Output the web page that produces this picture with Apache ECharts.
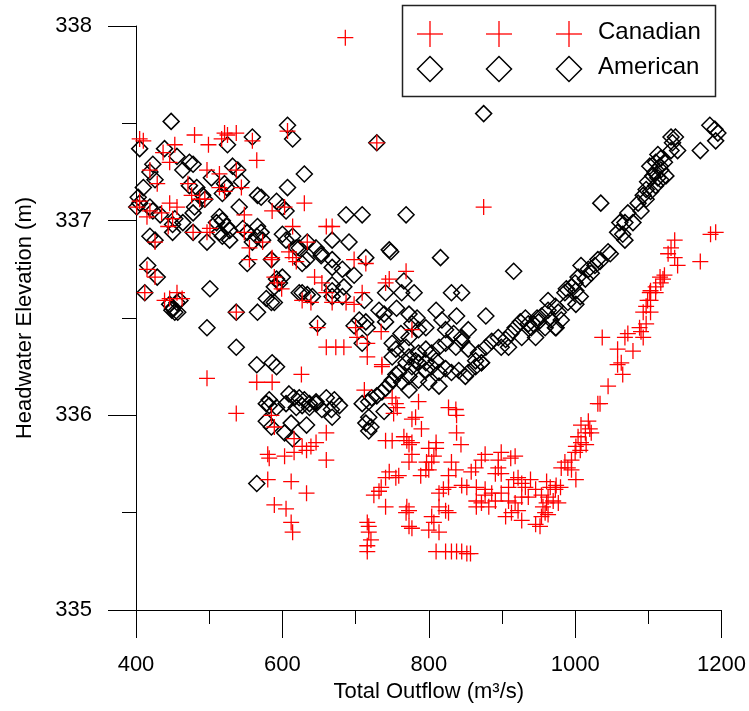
<!DOCTYPE html>
<html>
<head>
<meta charset="utf-8">
<script src="https://cdn.jsdelivr.net/npm/echarts@6/dist/echarts.min.js"></script>
<style>html,body{margin:0;padding:0;background:#fff}#c{width:749px;height:711px}</style>
</head>
<body>
<div id="c"></div>
<script>
// ---- data ----
var xTicks = [400, 600, 800, 1000, 1200];
var yTicks = [335, 336, 337, 338];
var seriesNames = ['Canadian', 'American'];

var americanFlow = [
448,405,607,614,559,525,439,456,473,478,464,423,419,426,630,532,539,607,544,503,521,524,518,483,473,410,403,405,401,566,571,592,600,605,491,494,480,478,433,423,419,453,450,464,514,518,510,524,528,514,518,528,546,552,566,571,565,573,559,541,419,426,450,478,497,600,605,614,623,619,634,646,653,
416,429,412,446,450,456,460,453,457,449,501,497,537,566,537,565,586,592,552,585,592,596,600,589,627,633,653,623,627,634,641,648,578,585,589,609,616,623,630,637,582,578,646,660,
582,592,605,619,627,637,646,654,578,585,612,633,603,614,565,
687,709,769,668,691,714,746,748,816,916,668,668,682,698,668,684,668,712,741,763,780,766,831,845,668,682,732,739,756,741,705,714,698,716,773,784,796,810,818,838,878,777,786,823,834,845,854,709,762,773,
750,755,750,769,773,786,796,804,814,823,837,845,854,868,878,886,895,899,864,872,810,796,782,
905,912,918,925,932,936,909,927,943,948,
671,678,667,668,709,718,722,729,736,741,746,750,755,759,718,714,718,721,739,769,777,786,796,804,814,823,831,841,850,854,864,872,773,786,800,814,773,763,
1184,1191,1195,1192,1171,1131,1137,1133,1140,1131,1113,1117,1110,1122,1116,1102,1109,1117,1124,1113,1106,1117,1099,1110,1097,1103,1093,1097,1086,1090,1072,1061,1068,1079,1058,1065,1068,1045,1031,1035,
1048,1034,1027,1008,1018,1022,1004,1014,1000,995,988,986,1001,1007,1001,990,963,973,963,977,954,967,981,950,959,973,940,946,974,
875,729
];
var americanElev = [
337.51,337.37,337.49,337.42,337.43,337.39,337.37,337.33,337.30,337.29,337.26,337.29,337.25,337.21,337.24,337.28,337.26,337.17,337.20,337.22,337.19,337.17,337.14,337.17,337.18,337.17,337.12,337.09,337.07,337.13,337.12,337.10,337.07,337.05,337.13,337.11,337.07,337.04,337.03,337.05,337.07,337.01,336.98,336.99,337.02,337.00,336.99,336.97,336.95,336.94,336.92,336.90,336.96,336.94,336.97,336.94,336.92,336.90,336.89,337.07,336.92,336.90,336.94,336.94,336.89,336.93,336.90,336.92,336.86,336.86,336.89,336.86,336.83,
336.77,336.71,336.63,336.57,336.55,336.58,336.59,336.53,336.53,336.54,336.65,336.45,336.35,336.53,336.53,336.26,336.27,336.25,336.78,336.80,336.70,336.68,336.71,336.66,336.78,336.80,336.82,336.63,336.63,336.62,336.61,336.47,336.60,336.58,336.58,336.11,336.09,336.09,336.08,336.06,336.08,336.06,336.07,336.09,
336.05,336.04,336.06,336.04,336.05,336.04,336.06,336.03,335.97,335.94,335.96,335.95,335.91,335.88,335.65,
337.03,337.03,337.03,336.90,336.89,336.81,336.85,336.84,336.81,336.74,336.80,336.76,336.75,336.72,336.67,336.66,336.64,336.59,336.63,336.63,336.63,336.69,336.63,336.63,336.61,336.61,336.54,336.52,336.55,336.48,336.49,336.48,336.46,336.45,336.52,336.50,336.45,336.54,336.49,336.51,336.51,336.47,336.44,336.44,336.42,336.40,336.44,336.37,336.42,336.40,
336.37,336.34,336.30,336.35,336.30,336.32,336.34,336.32,336.35,336.37,336.35,336.38,336.34,336.32,336.35,336.38,336.40,336.35,336.28,336.27,336.28,336.27,336.28,
336.39,336.42,336.45,336.48,336.50,336.47,336.35,336.40,336.47,336.50,
336.08,336.05,336.03,335.99,336.06,336.07,336.09,336.10,336.12,336.14,336.16,336.18,336.21,336.22,335.99,335.96,335.92,335.94,336.02,336.27,336.25,336.27,336.23,336.25,336.22,336.24,336.22,336.23,336.20,336.22,336.25,336.27,336.20,336.18,336.17,336.15,336.13,336.17,
337.49,337.47,337.45,337.41,337.36,337.43,337.43,337.40,337.36,337.36,337.34,337.32,337.30,337.30,337.28,337.28,337.25,337.26,337.23,337.22,337.23,337.21,337.20,337.18,337.16,337.15,337.13,337.11,337.09,337.05,337.04,336.99,336.99,336.99,336.94,336.93,336.90,336.84,336.80,337.09,
336.83,336.79,336.77,336.77,336.75,336.73,336.71,336.70,336.68,336.66,336.65,336.63,336.64,336.61,336.57,336.58,336.59,336.56,336.54,336.53,336.51,336.49,336.49,336.48,336.45,336.45,336.45,336.40,336.45,
337.55,337.40
];

var canadianFlow = [
405,410,480,453,499,521,525,517,537,565,607,559,437,446,419,429,497,514,537,471,476,544,401,405,446,456,419,415,435,450,444,494,487,478,497,501,548,548,555,573,586,603,630,614,660,426,586,609,634,514,521,
415,412,426,446,456,463,439,537,555,585,593,599,589,614,619,644,654,627,639,660,648,497,565,586,626,660,
537,585,589,580,582,603,616,627,633,639,646,660,616,580,612,633,589,605,612,614,660,
686,729,875,
668,698,714,769,746,741,709,668,687,698,735,700,673,684,716,736,777,702,716,
736,712,750,755,757,752,786,827,837,838,777,782,790,750,766,770,773,777,838,844,810,807,804,777,773,797,800,831,837,827,877,872,864,858,895,891,899,912,918,746,741,755,759,735,732,725,741,789,796,827,820,814,845,852,814,823,827,804,807,769,773,777,800,814,716,718,718,721,716,716,810,823,831,838,845,852,857,770,773,865,872,882,891,886,877,865,899,909,916,922,927,932,909,918,927,922,913,905,927,810,800,741,877,865,895,899,
1034,1008,1018,1020,1014,1004,1008,1001,1007,1015,1022,1000,995,986,981,990,995,1001,939,946,961,966,974,973,980,954,963,970,977,961,956,959,963,954,936,946,952,
1127,1136,1140,1171,1116,1120,1117,1110,1122,1103,1110,1102,1099,1103,1097,1093,1103,1097,1088,1090,1093,1072,1068,1037,1058,1079,1063,1058,1065,1045,1031,
1136,1131,1185,1192
];
var canadianElev = [
337.42,337.41,337.44,337.39,337.39,337.45,337.44,337.42,337.45,337.31,337.46,337.41,337.35,337.30,337.26,337.19,337.26,337.24,337.26,337.19,337.13,337.17,337.07,337.10,337.09,337.07,337.05,337.02,337.04,337.01,336.97,337.11,337.11,336.94,336.94,336.96,337.03,336.94,336.86,336.89,337.05,337.07,337.09,336.97,336.97,336.89,336.81,336.84,336.89,337.17,337.15,
336.75,336.63,336.71,336.60,336.63,336.60,336.59,336.53,336.80,336.80,336.68,336.65,336.71,336.81,336.79,336.71,336.68,336.59,336.58,336.63,336.45,336.19,336.17,336.17,336.21,336.35,
336.01,336.00,335.94,335.80,335.78,335.79,335.81,335.84,335.82,335.84,335.86,335.77,335.88,335.67,335.66,335.60,335.54,335.52,335.45,335.40,335.91,
337.94,337.40,337.07,
336.97,336.80,336.78,336.74,336.70,336.68,336.63,336.58,336.58,336.57,336.43,336.45,336.35,336.35,336.30,336.26,336.44,336.40,336.37,
336.25,336.13,336.09,336.06,336.04,336.01,336.07,336.04,336.03,336.00,335.98,335.99,335.93,335.87,335.89,335.87,335.85,335.86,335.91,335.85,335.83,335.79,335.76,335.80,335.76,335.76,335.72,335.76,335.72,335.69,335.80,335.77,335.73,335.71,335.73,335.70,335.70,335.78,335.79,335.71,335.68,335.68,335.69,335.63,335.61,335.59,335.53,335.69,335.72,335.63,335.62,335.60,335.64,335.63,335.53,335.51,335.50,335.48,335.45,335.50,335.43,335.42,335.41,335.40,335.45,335.43,335.40,335.36,335.33,335.30,335.30,335.30,335.30,335.30,335.30,335.29,335.29,335.53,335.51,335.56,335.55,335.53,335.56,335.60,335.62,335.63,335.60,335.63,335.67,335.68,335.65,335.63,335.56,335.55,335.58,335.51,335.50,335.48,335.46,335.86,335.83,335.87,335.59,335.53,335.77,335.81,
336.06,335.95,335.97,335.93,335.91,335.89,335.86,335.84,335.82,335.85,335.91,335.81,335.77,335.76,335.73,335.73,335.72,335.67,335.67,335.62,335.66,335.63,335.64,335.62,335.63,335.59,335.58,335.56,335.55,335.55,335.53,335.50,335.49,335.48,335.58,335.44,335.43,
336.83,336.81,336.77,336.79,336.71,336.70,336.68,336.66,336.72,336.64,336.63,336.63,336.59,336.59,336.56,336.53,336.53,336.47,336.45,336.43,336.40,336.42,336.40,336.40,336.34,336.33,336.27,336.26,336.21,336.15,336.06,
336.90,336.86,336.93,336.94
];

// ---- chart ----
function pairs(xs, ys) { var out = []; for (var i = 0; i < xs.length; i++) out.push([xs[i], ys[i]]); return out; }
function plain(v) { return String(v); }
var CROSS = 'path://M4.6,0H5.4V4.6H10V5.4H5.4V10H4.6V5.4H0V4.6H4.6Z';
var FONT = '"Liberation Sans", Arial, sans-serif';

var chart = echarts.init(document.getElementById('c'), null, {renderer: 'canvas'});
var legX = [430, 499, 569];
var graphics = [{
  type: 'rect', shape: {x: 402.5, y: 5.5, width: 313, height: 91},
  style: {fill: '#fff', stroke: '#222', lineWidth: 1.5}, z: 10
}];
legX.forEach(function (cx) {
  graphics.push({type: 'polyline', shape: {points: [[cx - 13, 34], [cx + 13, 34]]}, style: {stroke: '#ff0000', lineWidth: 1.3, fill: null}, z: 11});
  graphics.push({type: 'polyline', shape: {points: [[cx, 21], [cx, 47]]}, style: {stroke: '#ff0000', lineWidth: 1.3, fill: null}, z: 11});
  graphics.push({type: 'polygon', shape: {points: [[cx, 56.5], [cx + 12.5, 69], [cx, 81.5], [cx - 12.5, 69]]}, style: {stroke: '#000', lineWidth: 1.5, fill: null}, z: 11});
});
graphics.push({type: 'text', left: 598, top: 20, style: {text: seriesNames[0], font: '24px ' + FONT, fill: '#000'}, z: 11});
graphics.push({type: 'text', left: 598, top: 55, style: {text: seriesNames[1], font: '24px ' + FONT, fill: '#000'}, z: 11});

chart.setOption({
  animation: false,
  backgroundColor: '#fff',
  textStyle: {fontFamily: FONT},
  grid: {left: 136, right: 25, top: 26, bottom: 101, containLabel: false},
  xAxis: {
    type: 'value', min: xTicks[0], max: xTicks[xTicks.length - 1], interval: 200,
    name: 'Total Outflow (m³/s)', nameLocation: 'middle', nameGap: 70,
    nameTextStyle: {fontSize: 22, color: '#000', fontFamily: FONT},
    axisLine: {show: true, onZero: false, lineStyle: {color: '#000', width: 1}},
    axisTick: {show: true, inside: false, length: 28, lineStyle: {color: '#000', width: 1}},
    minorTick: {show: true, splitNumber: 2, length: 14, lineStyle: {color: '#000', width: 1}},
    axisLabel: {fontSize: 22, color: '#000', margin: 44, fontFamily: FONT, formatter: plain},
    splitLine: {show: false}
  },
  yAxis: {
    type: 'value', min: yTicks[0], max: yTicks[yTicks.length - 1], interval: 1,
    name: 'Headwater Elevation (m)', nameLocation: 'middle', nameGap: 100,
    nameTextStyle: {fontSize: 22, color: '#000', fontFamily: FONT},
    axisLine: {show: true, onZero: false, lineStyle: {color: '#000', width: 1}},
    axisTick: {show: true, inside: false, length: 28, lineStyle: {color: '#000', width: 1}},
    minorTick: {show: true, splitNumber: 2, length: 14, lineStyle: {color: '#000', width: 1}},
    axisLabel: {fontSize: 22, color: '#000', margin: 44, fontFamily: FONT, formatter: plain},
    splitLine: {show: false}
  },
  series: [
    {
      name: seriesNames[1], type: 'scatter', data: pairs(americanFlow, americanElev),
      symbol: 'diamond', symbolSize: 16,
      itemStyle: {color: 'rgba(0,0,0,0)', borderColor: '#000', borderWidth: 1.5, opacity: 1},
      z: 2
    },
    {
      name: seriesNames[0], type: 'scatter', data: pairs(canadianFlow, canadianElev),
      symbol: CROSS, symbolSize: 16,
      itemStyle: {color: '#ff0000', opacity: 1},
      z: 3
    }
  ],
  graphic: graphics
});
</script>
</body>
</html>
